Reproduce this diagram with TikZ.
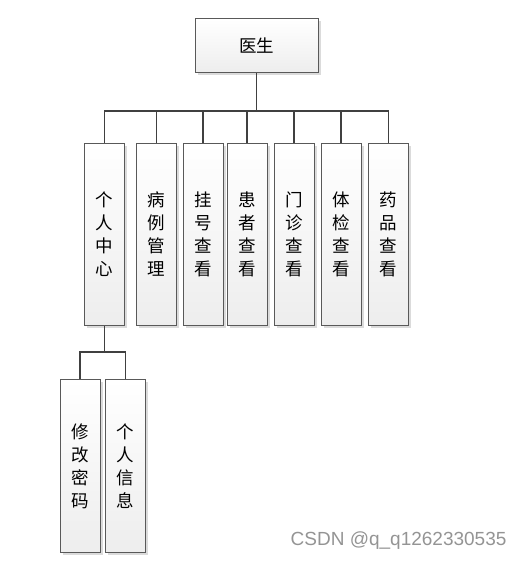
\documentclass[tikz,border=0pt]{standalone}
\usepackage{fontspec}
\setmainfont{Liberation Sans}
\newfontfamily\cjk{Noto Sans CJK SC}
\usetikzlibrary{shadows}

\begin{document}
\begin{tikzpicture}[x=1pt, y=-1pt,
  box/.style={draw=black!65, line width=1pt, top color=white, bottom color=black!7,
    drop shadow={shadow xshift=2.5pt, shadow yshift=-2.5pt, fill=black!14, opacity=1},
    font=\cjk\fontsize{17.5}{23}\selectfont, align=center, inner sep=0pt},
  colbox/.style={box, minimum width=40pt, minimum height=182pt},
  link/.style={draw=black!75, line width=1.3pt}]

\useasboundingbox (0,0) rectangle (519,561) ;

\node [box, minimum width=123pt, minimum height=54pt] (doc) at (256.5,46) {医生} ;

\node [colbox] (pc) at (104.5,234.5) {个\\人\\中\\心} ;
\node [colbox] (bl) at (156.5,234.5) {病\\例\\管\\理} ;
\node [colbox] (gh) at (203,234.5) {挂\\号\\查\\看} ;
\node [colbox] (hz) at (247,234.5) {患\\者\\查\\看} ;
\node [colbox] (mz) at (294,234.5) {门\\诊\\查\\看} ;
\node [colbox] (tj) at (341,234.5) {体\\检\\查\\看} ;
\node [colbox] (yp) at (388.5,234.5) {药\\品\\查\\看} ;

\node [colbox, minimum height=173pt] (xg) at (80,466) {修\\改\\密\\码} ;
\node [colbox, minimum height=173pt] (gr) at (125.5,466) {个\\人\\信\\息} ;

\coordinate (bus) at (0,111) ;
\coordinate (subbus) at (0,352) ;

\draw [link] (doc.south) -- (doc.south |- bus) ;
\draw [link] (pc.north) |- (yp.north |- bus) -- (yp.north) ;
\foreach \n in {bl,gh,hz,mz,tj} \draw [link] (\n.north) -- (\n.north |- bus) ;

\draw [link] (pc.south) -- (pc.south |- subbus) ;
\draw [link] (xg.north) |- (gr.north |- subbus) -- (gr.north) ;

\node [text=black!42, font=\fontsize{19}{20}\selectfont, anchor=east] (mark) at (510,541) {CSDN @q\_q1262330535} ;

\end{tikzpicture}
\end{document}
